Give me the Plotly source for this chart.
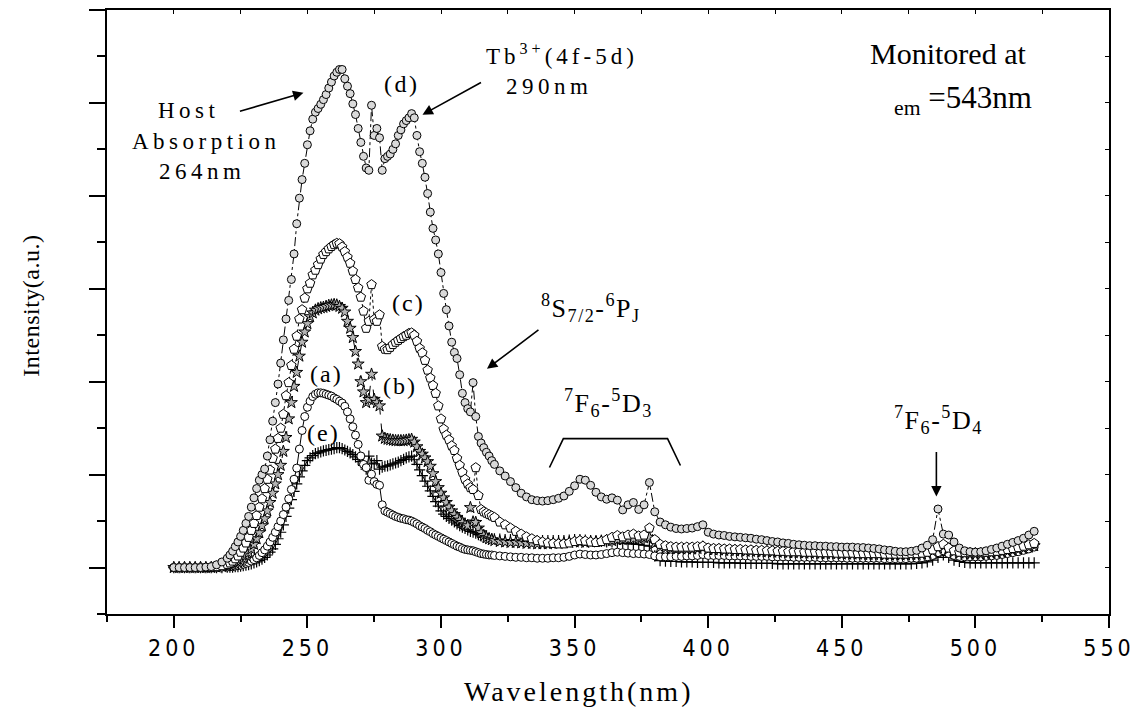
import plotly.graph_objects as go

# ---------------- data ----------------
wavelength = list(range(200, 221, 2)) + list(range(221, 321)) + list(range(322, 523, 2))

intensity_a = (
    [0, 0, 0, 0, 0, 0, 0, 0, 0, 0.01, 0.01]
    + [0.02, 0.02, 0.03, 0.04, 0.05, 0.07, 0.09, 0.11, 0.14, 0.17,
       0.21, 0.26, 0.32, 0.38, 0.46, 0.55, 0.65, 0.76, 0.88, 1.0,
       1.14, 1.3, 1.48, 1.68, 1.9, 2.14, 2.55, 2.95, 3.25, 3.45,
       3.58, 3.68, 3.73, 3.76, 3.76, 3.75, 3.73, 3.71, 3.69, 3.65,
       3.62, 3.58, 3.54, 3.47, 3.35, 3.2, 3.03, 2.85, 2.65, 2.4,
       2.22, 2.15, 1.88, 2.01, 1.85, 1.79, 1.77, 1.35, 1.22, 1.19,
       1.16, 1.13, 1.1, 1.08, 1.06, 1.05, 1.03, 1.02, 1.0, 0.97,
       0.94, 0.9, 0.87, 0.84, 0.8, 0.77, 0.73, 0.7, 0.67, 0.64,
       0.61, 0.58, 0.55, 0.52, 0.49, 0.46, 0.44, 0.41, 0.39, 0.38,
       0.37, 0.36, 0.34, 0.32, 0.3, 0.29, 0.28, 0.27, 0.27, 0.26]
    + [0.25, 0.24, 0.23, 0.22, 0.22, 0.21, 0.21, 0.2, 0.2, 0.2,
       0.21, 0.21, 0.22, 0.24, 0.27, 0.29, 0.28, 0.27, 0.27, 0.28,
       0.3, 0.32, 0.33, 0.32, 0.31, 0.3, 0.3, 0.29, 0.28, 0.25,
       0.23, 0.23, 0.23, 0.24, 0.24, 0.25, 0.25, 0.26, 0.28, 0.26,
       0.26, 0.26, 0.26, 0.25, 0.25, 0.25, 0.25, 0.24, 0.24, 0.24,
       0.24, 0.23, 0.23, 0.23, 0.23, 0.22, 0.22, 0.22, 0.22, 0.22,
       0.21, 0.21, 0.21, 0.21, 0.21, 0.2, 0.2, 0.2, 0.2, 0.2,
       0.2, 0.2, 0.19, 0.19, 0.19, 0.19, 0.19, 0.2, 0.2, 0.21,
       0.23, 0.26, 0.32, 0.36, 0.3, 0.26, 0.24, 0.23, 0.23, 0.23,
       0.23, 0.24, 0.25, 0.26, 0.28, 0.3, 0.32, 0.34, 0.37, 0.4,
       0.44]
)

intensity_b = (
    [0, 0, 0, 0, 0, 0, 0, 0, 0.01, 0.02, 0.04]
    + [0.05, 0.07, 0.09, 0.12, 0.15, 0.2, 0.26, 0.32, 0.4, 0.5,
       0.62, 0.75, 0.9, 1.05, 1.22, 1.4, 1.6, 1.8, 2.0, 2.2,
       2.5, 2.8, 3.2, 3.55, 3.9, 4.2, 4.55, 4.85, 5.07, 5.25,
       5.4, 5.48, 5.54, 5.57, 5.59, 5.6, 5.62, 5.64, 5.65, 5.66,
       5.65, 5.62, 5.58, 5.5, 5.3, 5.15, 4.95, 4.65, 4.38, 4.0,
       3.78, 3.55, 3.62, 4.16, 3.62, 3.55, 3.48, 2.83, 2.78, 2.76,
       2.75, 2.74, 2.73, 2.73, 2.73, 2.73, 2.74, 2.75, 2.76, 2.7,
       2.6, 2.5, 2.44, 2.36, 2.28, 2.18, 2.02, 1.85, 1.72, 1.6,
       1.5, 1.4, 1.3, 1.22, 1.14, 1.08, 1.02, 0.97, 0.92, 0.9,
       1.29, 0.98, 0.97, 0.85, 0.75, 0.69, 0.65, 0.62, 0.6, 0.58]
    + [0.56, 0.55, 0.54, 0.54, 0.53, 0.52, 0.52, 0.51, 0.51, 0.51,
       0.52, 0.52, 0.53, 0.54, 0.55, 0.55, 0.54, 0.55, 0.56, 0.57,
       0.58, 0.58, 0.6, 0.6, 0.61, 0.62, 0.62, 0.64, 0.65, 0.52,
       0.44, 0.42, 0.41, 0.41, 0.4, 0.4, 0.4, 0.41, 0.44, 0.39,
       0.38, 0.38, 0.37, 0.37, 0.36, 0.36, 0.35, 0.35, 0.35, 0.34,
       0.34, 0.33, 0.33, 0.33, 0.32, 0.32, 0.32, 0.31, 0.31, 0.31,
       0.3, 0.3, 0.3, 0.3, 0.29, 0.29, 0.29, 0.29, 0.28, 0.28,
       0.28, 0.28, 0.27, 0.27, 0.27, 0.27, 0.27, 0.28, 0.28, 0.29,
       0.31, 0.35, 0.42, 0.46, 0.4, 0.34, 0.31, 0.3, 0.29, 0.29,
       0.29, 0.3, 0.31, 0.32, 0.33, 0.35, 0.37, 0.39, 0.41, 0.44,
       0.47]
)

intensity_c = (
    [0, 0, 0, 0, 0, 0, 0, 0.01, 0.02, 0.04, 0.07]
    + [0.1, 0.14, 0.19, 0.25, 0.33, 0.42, 0.53, 0.65, 0.8, 0.95,
       1.12, 1.3, 1.48, 1.7, 1.9, 2.1, 2.35, 2.55, 2.78, 3.0,
       3.3, 3.7, 3.98, 4.35, 4.7, 4.98, 5.35, 5.55, 5.8, 6.0,
       6.12, 6.3, 6.4, 6.52, 6.64, 6.74, 6.8, 6.86, 6.91, 6.95,
       6.98, 6.97, 6.9, 6.8, 6.68, 6.55, 6.38, 6.2, 6.02, 5.82,
       5.52, 5.15, 5.3, 6.09, 5.34, 5.3, 5.44, 4.76, 4.7, 4.69,
       4.74, 4.8, 4.85, 4.89, 4.93, 4.97, 5.0, 5.04, 5.05, 5.0,
       4.87, 4.72, 4.62, 4.46, 4.25, 4.08, 3.92, 3.75, 3.48, 3.2,
       2.98, 2.85, 2.75, 2.62, 2.52, 2.35, 2.2, 2.05, 1.9, 1.8,
       1.72, 1.68, 2.15, 1.55, 1.25, 1.2, 1.17, 1.14, 1.11, 1.08]
    + [0.98, 0.92, 0.85, 0.78, 0.72, 0.66, 0.62, 0.58, 0.55, 0.53,
       0.52, 0.51, 0.51, 0.53, 0.56, 0.58, 0.57, 0.55, 0.54, 0.56,
       0.6, 0.65, 0.69, 0.66, 0.7, 0.72, 0.68, 0.7, 0.85, 0.6,
       0.5, 0.47, 0.45, 0.44, 0.44, 0.44, 0.44, 0.45, 0.46, 0.42,
       0.41, 0.41, 0.4, 0.4, 0.39, 0.39, 0.38, 0.38, 0.37, 0.37,
       0.36, 0.36, 0.35, 0.35, 0.34, 0.34, 0.34, 0.33, 0.33, 0.33,
       0.32, 0.32, 0.32, 0.31, 0.31, 0.31, 0.31, 0.3, 0.3, 0.3,
       0.3, 0.3, 0.29, 0.29, 0.29, 0.29, 0.29, 0.3, 0.3, 0.31,
       0.33, 0.38, 0.45, 0.5, 0.42, 0.36, 0.33, 0.32, 0.32, 0.32,
       0.32, 0.33, 0.34, 0.35, 0.37, 0.39, 0.41, 0.43, 0.46, 0.49,
       0.52]
)

intensity_d = (
    [0, 0, 0, 0, 0, 0, 0.01, 0.02, 0.06, 0.12, 0.2]
    + [0.27, 0.35, 0.45, 0.55, 0.67, 0.8, 0.95, 1.1, 1.3, 1.5,
       1.7, 1.88, 2.0, 2.12, 2.4, 2.75, 3.15, 3.55, 3.95, 4.4,
       4.9, 5.35, 5.75, 6.2, 6.75, 7.4, 7.95, 8.35, 8.7, 9.1,
       9.4, 9.65, 9.8, 9.88, 9.97, 10.07, 10.18, 10.32, 10.45, 10.58,
       10.66, 10.72, 10.72, 10.52, 10.36, 10.2, 9.98, 9.75, 9.45, 9.15,
       8.85, 8.6, 8.55, 9.95, 9.3, 9.45, 9.25, 8.55, 8.8, 8.85,
       8.9, 9.0, 9.12, 9.3, 9.42, 9.55, 9.62, 9.68, 9.77, 9.68,
       9.3, 8.95, 8.7, 8.4, 8.05, 7.65, 7.3, 7.05, 6.75, 6.35,
       5.9, 5.55, 5.2, 4.85, 4.63, 4.5, 4.15, 3.75, 3.55, 3.42,
       3.35, 3.98, 3.25, 2.82, 2.68, 2.58, 2.48, 2.4, 2.3, 2.22]
    + [2.08, 1.97, 1.85, 1.72, 1.6, 1.52, 1.46, 1.44, 1.43, 1.44,
       1.46, 1.49, 1.54, 1.64, 1.76, 1.9, 1.88, 1.77, 1.62, 1.52,
       1.47, 1.5, 1.45, 1.24, 1.35, 1.4, 1.25, 1.35, 1.83, 1.2,
       0.98, 0.92, 0.87, 0.84, 0.83, 0.84, 0.85, 0.88, 0.92, 0.76,
       0.72, 0.7, 0.69, 0.67, 0.66, 0.65, 0.64, 0.63, 0.61, 0.6,
       0.58, 0.56, 0.55, 0.53, 0.52, 0.5, 0.49, 0.48, 0.47, 0.47,
       0.46, 0.46, 0.45, 0.45, 0.44, 0.44, 0.44, 0.43, 0.43, 0.42,
       0.41, 0.4, 0.38, 0.37, 0.35, 0.34, 0.34, 0.35, 0.37, 0.42,
       0.48, 0.6, 1.26, 0.72, 0.7, 0.55, 0.42, 0.36, 0.34, 0.33,
       0.34, 0.36, 0.39, 0.42, 0.46, 0.5, 0.54, 0.58, 0.63, 0.7,
       0.78]
)

intensity_e = (
    [0, 0, 0, 0, 0, 0, 0, 0, 0, 0, 0.01]
    + [0.01, 0.01, 0.02, 0.02, 0.03, 0.04, 0.05, 0.06, 0.08, 0.1,
       0.12, 0.15, 0.18, 0.22, 0.27, 0.33, 0.4, 0.5, 0.62, 0.76,
       0.92, 1.1, 1.28, 1.46, 1.64, 1.8, 1.95, 2.08, 2.2, 2.3,
       2.36, 2.41, 2.45, 2.47, 2.49, 2.51, 2.52, 2.54, 2.55, 2.56,
       2.58, 2.58, 2.56, 2.53, 2.5, 2.47, 2.43, 2.38, 2.33, 2.28,
       2.2, 2.12, 2.4, 2.25, 2.23, 2.3, 2.12, 2.16, 2.18, 2.19,
       2.21, 2.23, 2.25, 2.27, 2.3, 2.33, 2.36, 2.38, 2.4, 2.32,
       2.22, 2.1, 1.98, 1.86, 1.75, 1.65, 1.53, 1.42, 1.32, 1.22,
       1.15, 1.1, 1.06, 1.02, 0.98, 0.94, 0.9, 0.87, 0.84, 0.81,
       0.78, 0.76, 0.74, 0.71, 0.68, 0.65, 0.64, 0.63, 0.62, 0.62]
    + [0.61, 0.6, 0.6, 0.59, 0.59, 0.58, 0.58, 0.58, 0.58, 0.58,
       0.58, 0.58, 0.58, 0.59, 0.6, 0.6, 0.59, 0.58, 0.56, 0.56,
       0.55, 0.55, 0.54, 0.53, 0.52, 0.51, 0.5, 0.48, 0.46, 0.25,
       0.15, 0.14, 0.13, 0.13, 0.12, 0.12, 0.12, 0.11, 0.11, 0.11,
       0.11, 0.1, 0.1, 0.1, 0.1, 0.09, 0.09, 0.09, 0.09, 0.09,
       0.09, 0.09, 0.08, 0.08, 0.08, 0.08, 0.08, 0.08, 0.08, 0.08,
       0.08, 0.08, 0.08, 0.08, 0.08, 0.08, 0.08, 0.08, 0.08, 0.08,
       0.08, 0.08, 0.08, 0.08, 0.08, 0.08, 0.08, 0.08, 0.09, 0.1,
       0.12, 0.16, 0.22, 0.27, 0.22, 0.16, 0.13, 0.11, 0.1, 0.1,
       0.1, 0.1, 0.1, 0.1, 0.1, 0.1, 0.1, 0.1, 0.1, 0.1,
       0.1]
)

x_tick_values = [200, 250, 300, 350, 400, 450, 500, 550]
x_tick_labels = ["200", "250", "300", "350", "400", "450", "500", "550"]

for _s in (intensity_a, intensity_b, intensity_c, intensity_d, intensity_e):
    assert len(_s) == len(wavelength), (len(_s), len(wavelength))

# ---------------- layout helpers ----------------
W, H = 1143, 711
ML, MR, MT, MB = 107, 26, 8, 97
PW, PH = W - ML - MR, H - MT - MB


def fx(px):
    return (px - ML) / PW


def fy(py):
    return (H - MB - py) / PH


SERIF = "Liberation Serif, Times New Roman, serif"
NARROW = "Liberation Sans Narrow, Arial Narrow, DejaVu Sans Condensed, sans-serif"


def spaced(s, sp):
    return '<span style="letter-spacing:%spx">%s</span>' % (sp, s)


fig = go.Figure()

series = [
    ("(e)", intensity_e, dict(symbol="cross-thin", size=8, color="black",
                              line=dict(color="black", width=1.2)), "solid"),
    ("(a)", intensity_a, dict(symbol="circle", size=8, color="white",
                              line=dict(color="black", width=1)), "solid"),
    ("(b)", intensity_b, dict(symbol="star", size=9, color="#b4b4b4",
                              line=dict(color="black", width=1)), "dash"),
    ("(c)", intensity_c, dict(symbol="pentagon", size=10, color="white",
                              line=dict(color="black", width=1)), "dot"),
    ("(d)", intensity_d, dict(symbol="circle", size=8, color="#d9d9d9",
                              line=dict(color="black", width=1)), "dashdot"),
]
for name, ys, mk, dash in series:
    fig.add_trace(go.Scatter(
        x=wavelength, y=ys, mode="lines+markers", name=name,
        marker=mk, line=dict(color="black", width=1, dash=dash),
        showlegend=False, hoverinfo="x+y"))

# empty trace to hold the mirrored (top/right) axes with inward ticks
fig.add_trace(go.Scatter(x=[], y=[], xaxis="x2", yaxis="y2",
                         showlegend=False, hoverinfo="skip"))

fig.update_layout(
    width=W, height=H,
    margin=dict(l=ML, r=MR, t=MT, b=MB, pad=0),
    paper_bgcolor="white", plot_bgcolor="white",
    xaxis=dict(
        range=[175, 550], tickmode="array", tickvals=x_tick_values,
        ticktext=[spaced(t, 4) for t in x_tick_labels],
        ticks="outside", ticklen=12, tickwidth=1.5, tickcolor="black",
        tickfont=dict(family=NARROW, size=23, color="black"),
        showline=True, linewidth=2, linecolor="black", mirror=True,
        showgrid=False, zeroline=False,
        minor=dict(tickmode="array", tickvals=[175, 225, 275, 325, 375, 425, 475, 525],
                   ticks="outside", ticklen=6, tickwidth=1.5, tickcolor="black"),
    ),
    yaxis=dict(
        range=[-1, 12], tickmode="array", tickvals=[0, 2, 4, 6, 8, 10, 12],
        showticklabels=False, ticks="outside", ticklen=16, tickwidth=1.5,
        tickcolor="black", showline=True, linewidth=2, linecolor="black",
        mirror=True, showgrid=False, zeroline=False,
        minor=dict(tickmode="array", tickvals=[-1, 1, 3, 5, 7, 9, 11],
                   ticks="outside", ticklen=8, tickwidth=1.5, tickcolor="black"),
    ),
    xaxis2=dict(
        overlaying="x", side="top", range=[175, 550], tickmode="array",
        tickvals=[200, 225, 250, 275, 300, 325, 350, 375, 400, 425, 450, 475, 500, 525],
        ticks="inside", ticklen=4, tickwidth=1, tickcolor="black",
        showticklabels=False, showline=False, showgrid=False, zeroline=False,
    ),
    yaxis2=dict(
        overlaying="y", side="right", range=[-1, 12], tickmode="array",
        tickvals=[0, 1, 2, 3, 4, 5, 6, 7, 8, 9, 10, 11],
        ticks="inside", ticklen=4, tickwidth=1, tickcolor="black",
        showticklabels=False, showline=False, showgrid=False, zeroline=False,
    ),
)

ann = []


def text(px, py, s, size, angle=0, family=SERIF):
    ann.append(dict(xref="paper", yref="paper", x=fx(px), y=fy(py), text=s,
                    showarrow=False, xanchor="center", yanchor="middle",
                    textangle=angle, align="center",
                    font=dict(family=family, size=size, color="black")))


def arrow(tail, head):
    ann.append(dict(xref="paper", yref="paper", x=fx(head[0]), y=fy(head[1]),
                    ax=tail[0] - head[0], ay=tail[1] - head[1], text="",
                    showarrow=True, arrowhead=2, arrowsize=1.3, arrowwidth=1.6,
                    arrowcolor="black"))


# axis titles
text(582, 692, spaced("Wavelength(nm)", 3), 28)
text(30, 305, spaced("Intensity(a.u.)", 0.5), 24, angle=-90)

# curve labels
text(404, 82, spaced("(d)", 2.5), 24)
text(411, 302, spaced("(c)", 2), 24)
text(328, 373, spaced("(a)", 2), 24)
text(402, 385, spaced("(b)", 2), 24)
text(325, 432, spaced("(e)", 2), 24)

# peak annotations
text(189, 109, spaced("Host", 4.5), 23)
text(207, 140, spaced("Absorption", 4.5), 23)
text(203, 170, spaced("264nm", 4.5), 23)
text(566, 53, spaced("Tb<sup>3+</sup>(4f-5d)", 4), 23)
text(553, 85, spaced("290nm", 4.5), 23)
text(955, 52, "Monitored at", 30)
text(970, 98, "<sub>em</sub> =543nm", 31)
text(595, 307, spaced("<sup>8</sup>S<sub>7/2</sub>-<sup>6</sup>P<sub>J</sub>", 1.5), 26)
text(612, 402, spaced("<sup>7</sup>F<sub>6</sub>-<sup>5</sup>D<sub>3</sub>", 1.5), 26)
text(945, 419, spaced("<sup>7</sup>F<sub>6</sub>-<sup>5</sup>D<sub>4</sub>", 1.5), 26)

arrow((240, 110), (305, 91))
arrow((485, 80), (425, 113))
arrow((543, 328), (490, 368))
arrow((943, 450), (943, 496))

fig.update_layout(annotations=ann)

# bracket over the 7F6-5D3 lines
bracket = [(553, 467), (567, 438), (672, 438), (685, 465)]
path = "M " + " L ".join("%f,%f" % (fx(a), fy(b)) for a, b in bracket)
fig.add_shape(type="path", xref="paper", yref="paper", path=path,
              line=dict(color="black", width=1.6))

fig.write_html("out.html")
